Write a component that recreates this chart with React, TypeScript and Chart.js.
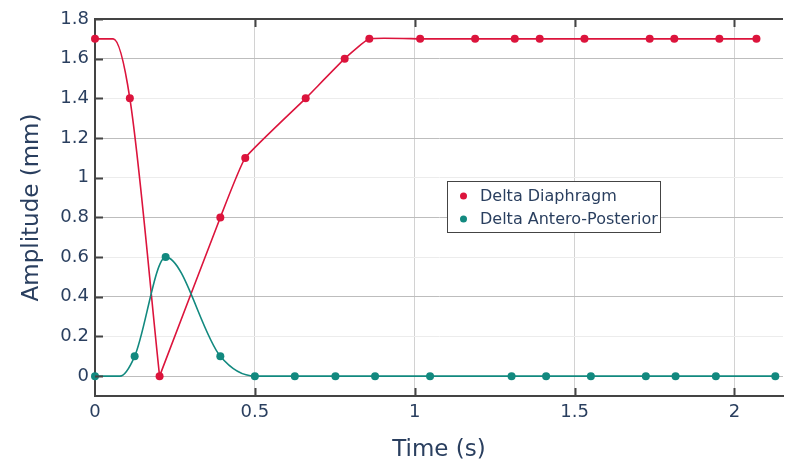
import React, { useEffect, useRef } from "react";
import { Chart, registerables } from "chart.js";

Chart.register(...registerables);

// ---- data ----
const xTickValues = [0, 0.5, 1, 1.5, 2];
const yTickValues = [0, 0.2, 0.4, 0.6, 0.8, 1, 1.2, 1.4, 1.6, 1.8];
const xMin = 0;
const xMax = 2.152;
const yMin = -0.1;
const yMax = 1.8;

const seriesNames = ["Delta Diaphragm", "Delta Antero-Posterior"];

const diaphragmTime = [0, 0.109, 0.202, 0.392, 0.47, 0.659, 0.781, 0.858, 1.017, 1.189, 1.313, 1.391, 1.531, 1.735, 1.812, 1.953, 2.069];
const diaphragmAmp = [1.7, 1.4, 0, 0.8, 1.1, 1.4, 1.6, 1.7, 1.7, 1.7, 1.7, 1.7, 1.7, 1.7, 1.7, 1.7, 1.7];
const diaphragmOnsetTime = 0.057; // curve leaves the 1.7 plateau here (no marker)
const diaphragmOnsetAmp = 1.7;

const apTime = [0, 0.124, 0.221, 0.392, 0.5, 0.625, 0.752, 0.876, 1.048, 1.303, 1.411, 1.551, 1.723, 1.816, 1.942, 2.128];
const apAmp = [0, 0.1, 0.6, 0.1, 0, 0, 0, 0, 0, 0, 0, 0, 0, 0, 0, 0];
const apOnsetTime = 0.078; // curve leaves 0 here (no marker)
const apOnsetAmp = 0;

// ---- styles ----
const RED = "#dc143c";
const TEAL = "#12897f";
const TEXT = "#2a3f5f";
const AXIS = "#444444";
const FONT = "Verdana, 'DejaVu Sans', sans-serif";

type Pt = { x: number; y: number };

function knots(t: number[], v: number[], ot: number, ov: number): Pt[] {
  const pts = t.map((x, i) => ({ x, y: v[i] }));
  pts.push({ x: ot, y: ov });
  pts.sort((a, b) => a.x - b.x);
  return pts;
}

const framePlugin = {
  id: "frame",
  afterDraw(chart: any) {
    const { ctx, chartArea, scales } = chart;
    const xs = scales.x;
    const ys = scales.y;
    ctx.save();
    // top border
    ctx.strokeStyle = AXIS;
    ctx.lineWidth = 2;
    ctx.beginPath();
    ctx.moveTo(chartArea.left - 1, chartArea.top);
    ctx.lineTo(chartArea.right, chartArea.top);
    ctx.stroke();
    // inside ticks
    const tl = 8;
    ctx.lineWidth = 2;
    ctx.beginPath();
    xTickValues.forEach((v) => {
      if (v === 0) return;
      const px = Math.round(xs.getPixelForValue(v)) + 0.5;
      ctx.moveTo(px, chartArea.bottom);
      ctx.lineTo(px, chartArea.bottom - tl);
      ctx.moveTo(px, chartArea.top);
      ctx.lineTo(px, chartArea.top + tl);
    });
    yTickValues.forEach((v) => {
      const py = Math.round(ys.getPixelForValue(v)) + 0.5;
      ctx.moveTo(chartArea.left, py);
      ctx.lineTo(chartArea.left + tl, py);
    });
    ctx.stroke();

    // legend box
    const bx = 447.5, by = 181.5, bw = 213, bh = 51;
    ctx.fillStyle = "#ffffff";
    ctx.fillRect(bx, by, bw, bh);
    ctx.strokeStyle = AXIS;
    ctx.lineWidth = 1;
    ctx.strokeRect(bx, by, bw, bh);
    const colors = [RED, TEAL];
    ctx.font = `16px ${FONT}`;
    ctx.textBaseline = "middle";
    ctx.textAlign = "left";
    seriesNames.forEach((name, i) => {
      const cy = 196 + i * 23;
      ctx.fillStyle = colors[i];
      ctx.beginPath();
      ctx.arc(463.5, cy, 3.5, 0, Math.PI * 2);
      ctx.fill();
      ctx.fillStyle = TEXT;
      ctx.fillText(name, 480, cy + 1);
    });
    ctx.restore();
  },
};

export default function App() {
  const ref = useRef<HTMLCanvasElement | null>(null);

  useEffect(() => {
    document.body.style.margin = "0";
    const canvas = ref.current;
    if (!canvas) return;

    const redKnots = knots(diaphragmTime, diaphragmAmp, diaphragmOnsetTime, diaphragmOnsetAmp);
    let minIdx = 0;
    redKnots.forEach((p, i) => {
      if (p.y < redKnots[minIdx].y) minIdx = i;
    });
    const redDown = redKnots.slice(0, minIdx + 1);
    const redUp = redKnots.slice(minIdx);
    const tealKnots = knots(apTime, apAmp, apOnsetTime, apOnsetAmp);

    const lineBase = {
      pointRadius: 0,
      pointHoverRadius: 0,
      borderWidth: 1.6,
      cubicInterpolationMode: "monotone" as const,
      fill: false,
      clip: false as any,
    };
    const markerBase = {
      showLine: false,
      pointRadius: 4,
      pointHoverRadius: 4,
      borderWidth: 0,
      clip: false as any,
    };

    const chart = new Chart(canvas, {
      type: "line",
      data: {
        datasets: [
          { ...lineBase, label: "d1", data: redDown, borderColor: RED, order: 4 },
          {
            ...lineBase,
            label: "d2",
            data: redUp,
            borderColor: RED,
            order: 4,
            cubicInterpolationMode: "default" as const,
            tension: 0.12,
          },
          { ...lineBase, label: "ap", data: tealKnots, borderColor: TEAL, order: 3 },
          {
            ...markerBase,
            label: seriesNames[0],
            data: diaphragmTime.map((x, i) => ({ x, y: diaphragmAmp[i] })),
            backgroundColor: RED,
            borderColor: RED,
            order: 2,
          },
          {
            ...markerBase,
            label: seriesNames[1],
            data: apTime.map((x, i) => ({ x, y: apAmp[i] })),
            backgroundColor: TEAL,
            borderColor: TEAL,
            order: 1,
          },
        ],
      },
      options: {
        animation: false,
        responsive: false,
        devicePixelRatio: 1,
        events: [],
        layout: { padding: { top: 19, right: 0, left: 0, bottom: 0 } },
        plugins: {
          legend: { display: false },
          tooltip: { enabled: false },
        },
        scales: {
          x: {
            type: "linear",
            min: xMin,
            max: xMax,
            afterBuildTicks: (s: any) => {
              s.ticks = xTickValues.map((v) => ({ value: v }));
            },
            afterFit: (s: any) => {
              s.height = 68;
            },
            ticks: {
              color: TEXT,
              font: { family: FONT, size: 18 },
              padding: 6,
              maxRotation: 0,
              callback: (v: any) => String(v),
            },
            grid: {
              color: "#d2d2d2",
              lineWidth: 1,
              drawTicks: false,
            },
            border: { display: true, color: AXIS, width: 2 },
            title: {
              display: true,
              text: "Time (s)",
              color: TEXT,
              font: { family: FONT, size: 23, weight: "normal" },
              padding: { top: 0, bottom: 0 },
            },
          },
          y: {
            type: "linear",
            min: yMin,
            max: yMax,
            afterBuildTicks: (s: any) => {
              s.ticks = yTickValues.map((v) => ({ value: v }));
            },
            afterFit: (s: any) => {
              s.width = 95;
            },
            ticks: {
              color: TEXT,
              font: { family: FONT, size: 18 },
              padding: 6,
              callback: (v: any) => String(Math.round(Number(v) * 10) / 10),
            },
            grid: {
              color: (c: any) => {
                const v = Math.round((c.tick ? c.tick.value : 0) * 10);
                return v % 4 === 0 ? "#bdbdbd" : "#ececec";
              },
              lineWidth: 1,
              drawTicks: false,
            },
            border: { display: true, color: AXIS, width: 2 },
            title: {
              display: true,
              text: "Amplitude (mm)",
              color: TEXT,
              font: { family: FONT, size: 23, weight: "normal" },
              padding: { top: 18, bottom: 0 },
            },
          },
        },
      },
      plugins: [framePlugin],
    });

    return () => chart.destroy();
  }, []);

  return (
    <div style={{ width: 787, height: 464 }}>
      <canvas ref={ref} width={787} height={464} style={{ display: "block" }} />
    </div>
  );
}
